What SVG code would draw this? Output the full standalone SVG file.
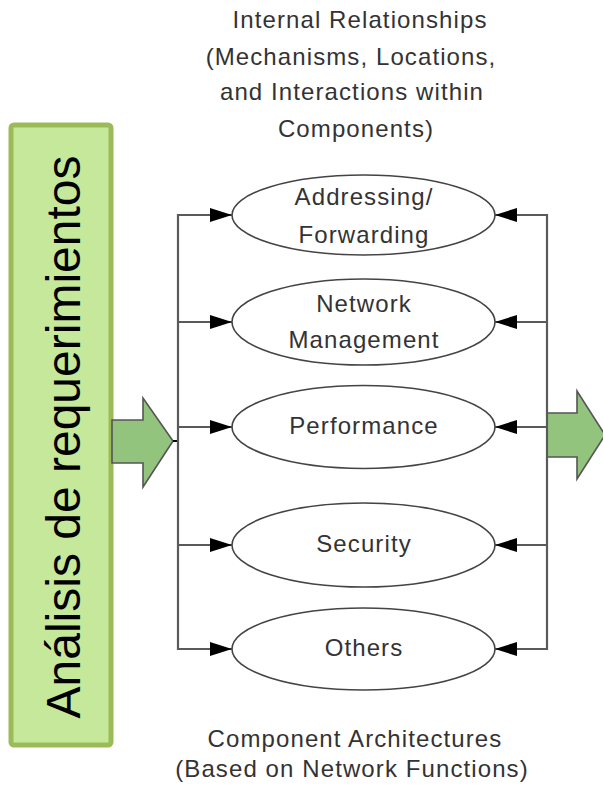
<svg xmlns="http://www.w3.org/2000/svg" width="603" height="785" viewBox="0 0 603 785">
  <style>
    .lbl { font-family: "Liberation Sans", Arial, sans-serif; font-size: 24px; letter-spacing: 1.1px; fill: #333; text-anchor: middle; }
    .ell { fill: #ffffff; stroke: #444; stroke-width: 1.6; }
    .wire { fill: none; stroke: #5a5a5a; stroke-width: 2.2; }
    .block { fill: #93c47d; stroke: #555; stroke-width: 1.6; stroke-linejoin: miter; }
  </style>
  <defs>
    <marker id="ah" viewBox="0 0 22 14" refX="22" refY="7" markerWidth="22" markerHeight="14" markerUnits="userSpaceOnUse" orient="auto">
      <path d="M0,0 L22,7 L0,14 Z" fill="#000"/>
    </marker>
  </defs>
  <rect width="603" height="785" fill="#ffffff"/>

  <g id="title">
    <text class="lbl" x="360" y="28">Internal Relationships</text>
    <text class="lbl" x="351" y="65">(Mechanisms, Locations,</text>
    <text class="lbl" x="352" y="100">and Interactions within</text>
    <text class="lbl" x="356" y="137">Components)</text>
  </g>

  <g id="requirements">
    <rect x="11" y="125" width="100" height="620" rx="3" fill="#c6e89a" stroke="#9bbb59" stroke-width="5"/>
    <text transform="translate(80,437) rotate(-90)" x="0" y="0" text-anchor="middle" font-family="Liberation Sans, Arial, sans-serif" font-size="48" fill="#000">Análisis de requerimientos</text>
  </g>

  <g id="arrow-in">
    <path class="block" d="M112,420 L143,420 L143,398 L173,441 L143,487 L143,463 L112,463 Z"/>
  </g>
  <g id="arrow-out">
    <path class="block" d="M547,413 L577,413 L577,391 L605,435 L577,479 L577,457 L547,457 Z"/>
  </g>

  <g id="connectors">
    <line x1="173" y1="441" x2="178" y2="441" stroke="#000" stroke-width="2"/>
    <polyline class="wire" points="232,215 178,215 178,649 232,649"/>
    <polyline class="wire" points="495,215 547,215 547,649 495,649"/>
    <line class="wire" x1="178" y1="215" x2="232" y2="215" marker-end="url(#ah)"/>
    <line class="wire" x1="178" y1="322" x2="232" y2="322" marker-end="url(#ah)"/>
    <line class="wire" x1="178" y1="427" x2="232" y2="427" marker-end="url(#ah)"/>
    <line class="wire" x1="178" y1="545" x2="232" y2="545" marker-end="url(#ah)"/>
    <line class="wire" x1="178" y1="649" x2="232" y2="649" marker-end="url(#ah)"/>
    <line class="wire" x1="547" y1="215" x2="495" y2="215" marker-end="url(#ah)"/>
    <line class="wire" x1="547" y1="322" x2="495" y2="322" marker-end="url(#ah)"/>
    <line class="wire" x1="547" y1="427" x2="495" y2="427" marker-end="url(#ah)"/>
    <line class="wire" x1="547" y1="545" x2="495" y2="545" marker-end="url(#ah)"/>
    <line class="wire" x1="547" y1="649" x2="495" y2="649" marker-end="url(#ah)"/>
  </g>

  <g id="addressing">
    <ellipse class="ell" cx="363.5" cy="215" rx="131.5" ry="40"/>
    <text class="lbl" x="364" y="205">Addressing/</text>
    <text class="lbl" x="364" y="243">Forwarding</text>
  </g>
  <g id="management">
    <ellipse class="ell" cx="363.5" cy="322" rx="131.5" ry="43"/>
    <text class="lbl" x="364" y="312">Network</text>
    <text class="lbl" x="364" y="348">Management</text>
  </g>
  <g id="performance">
    <ellipse class="ell" cx="363.5" cy="427" rx="131.5" ry="41.5"/>
    <text class="lbl" x="364" y="434">Performance</text>
  </g>
  <g id="security">
    <ellipse class="ell" cx="363.5" cy="545" rx="131.5" ry="42"/>
    <text class="lbl" x="364" y="552">Security</text>
  </g>
  <g id="others">
    <ellipse class="ell" cx="363.5" cy="649" rx="131.5" ry="41"/>
    <text class="lbl" x="364" y="656">Others</text>
  </g>

  <g id="footer">
    <text class="lbl" x="355" y="747">Component Architectures</text>
    <text class="lbl" x="352" y="777">(Based on Network Functions)</text>
  </g>
</svg>
